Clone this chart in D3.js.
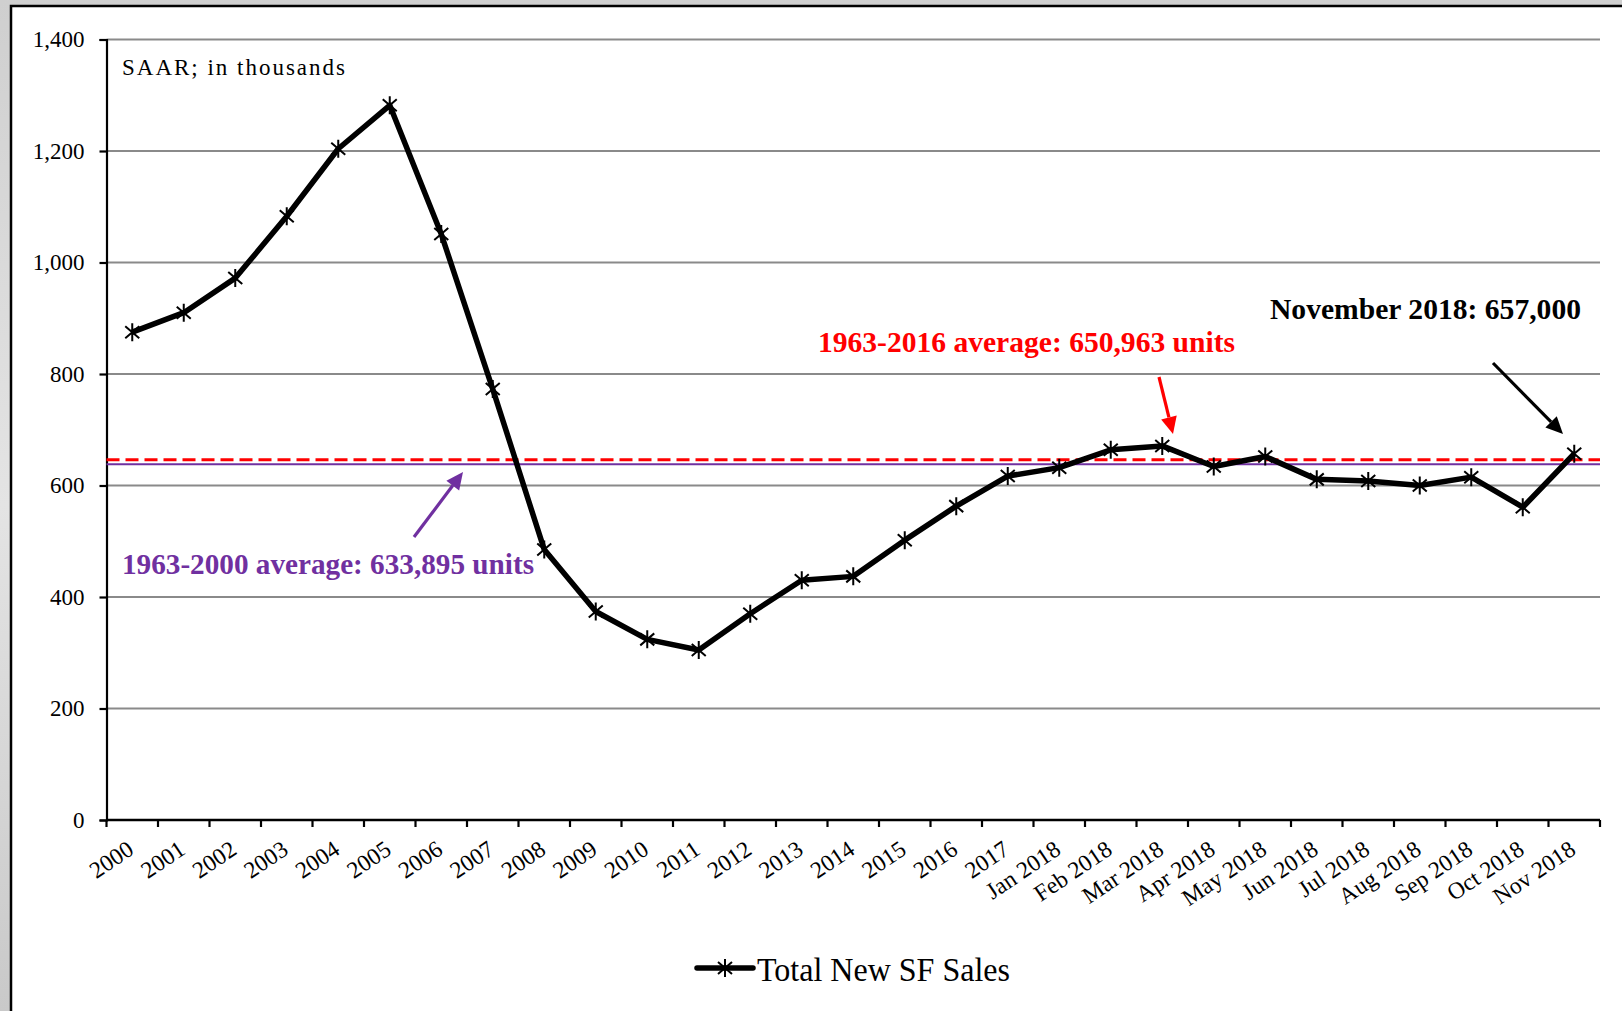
<!DOCTYPE html>
<html>
<head>
<meta charset="utf-8">
<script src="https://cdn.jsdelivr.net/npm/d3@7"></script>
<style>
  body { margin: 0; background: #d6d6d6; }
  svg { display: block; font-family: "Liberation Serif", "Times New Roman", serif; }
</style>
</head>
<body>
<div id="chart"></div>
<script>
// New single-family home sales, SAAR (thousands)
const categories = ['2000','2001','2002','2003','2004','2005','2006','2007','2008','2009',
  '2010','2011','2012','2013','2014','2015','2016','2017',
  'Jan 2018','Feb 2018','Mar 2018','Apr 2018','May 2018','Jun 2018','Jul 2018',
  'Aug 2018','Sep 2018','Oct 2018','Nov 2018'];

const salesValues = [875, 910, 972, 1083, 1204, 1282, 1051, 773, 485, 374,
  324, 305, 370, 430, 437, 502, 563, 617,
  632, 664, 671, 634, 652, 611, 608, 600, 615, 561, 657];

const yTicks = [0, 200, 400, 600, 800, 1000, 1200, 1400];

// average lines (as drawn in the picture)
const avg2016 = 646;
const avg2000 = 638;

const width = 1622, height = 1011;

const svg = d3.select('#chart').append('svg')
  .attr('width', width)
  .attr('height', height);

// textured-ish backdrop + white sheet
const defs = svg.append('defs');
const bg = defs.append('linearGradient').attr('id', 'bg')
  .attr('x1', 0).attr('y1', 0).attr('x2', 0).attr('y2', 1);
bg.append('stop').attr('offset', '0%').attr('stop-color', '#cfcfcf');
bg.append('stop').attr('offset', '50%').attr('stop-color', '#e4e4e4');
bg.append('stop').attr('offset', '100%').attr('stop-color', '#c9c9c9');

svg.append('rect').attr('width', width).attr('height', height).attr('fill', 'url(#bg)');
svg.append('rect')
  .attr('x', 11).attr('y', 6)
  .attr('width', width + 20).attr('height', height + 20)
  .attr('fill', '#fff')
  .attr('stroke', '#000')
  .attr('stroke-width', 2.5);

const x = d3.scaleBand().domain(categories).range([106.5, 1600]);
const y = d3.scaleLinear().domain([0, 1400]).range([820, 39.5]);
const cx = d => x(d) + x.bandwidth() / 2;

// gridlines
svg.append('g')
  .selectAll('line')
  .data(yTicks.filter(d => d > 0))
  .join('line')
  .attr('x1', 106.5).attr('x2', 1600)
  .attr('y1', d => y(d)).attr('y2', d => y(d))
  .attr('stroke', '#8a8a8a')
  .attr('stroke-width', 2);

// y axis
const yAxis = svg.append('g')
  .attr('transform', 'translate(106.5,0)')
  .call(d3.axisLeft(y).tickValues(yTicks).tickSize(7).tickPadding(15)
    .tickFormat(d3.format(',')));
yAxis.select('.domain').attr('stroke-width', 2.2);
yAxis.selectAll('.tick line').attr('stroke-width', 2.2);
yAxis.selectAll('text')
  .style('font-size', '23px')
  .style('font-family', '"Liberation Serif", "Times New Roman", serif')
  .attr('fill', '#000');

// x axis: ticks on band edges
const xEdges = categories.map(d => x(d)).concat([x.range()[1]]);
const xAxisG = svg.append('g');
xAxisG.append('line')
  .attr('x1', 106.5).attr('x2', 1600)
  .attr('y1', y(0)).attr('y2', y(0))
  .attr('stroke', '#000').attr('stroke-width', 2.5);
xAxisG.selectAll('.xtick')
  .data(xEdges)
  .join('line')
  .attr('class', 'xtick')
  .attr('x1', d => d).attr('x2', d => d)
  .attr('y1', y(0)).attr('y2', y(0) + 7)
  .attr('stroke', '#000').attr('stroke-width', 2.2);

xAxisG.selectAll('.xlab')
  .data(categories)
  .join('text')
  .attr('class', 'xlab')
  .attr('text-anchor', 'end')
  .attr('transform', d => `translate(${cx(d) + 3},${y(0) + 33}) rotate(-34)`)
  .style('font-size', '23.5px')
  .text(d => d);

// average lines
svg.append('line')
  .attr('x1', 106.5).attr('x2', 1600)
  .attr('y1', y(avg2000)).attr('y2', y(avg2000))
  .attr('stroke', '#7030a0').attr('stroke-width', 2);
svg.append('line')
  .attr('x1', 106.5).attr('x2', 1600)
  .attr('y1', y(avg2016)).attr('y2', y(avg2016))
  .attr('stroke', '#ff0000').attr('stroke-width', 3)
  .attr('stroke-dasharray', '13,6');

// main series
const line = d3.line()
  .x((d, i) => cx(categories[i]))
  .y(d => y(d));

svg.append('path')
  .datum(salesValues)
  .attr('d', line)
  .attr('fill', 'none')
  .attr('stroke', '#000')
  .attr('stroke-width', 5.5)
  .attr('stroke-linejoin', 'round');

const starPath = 'M-7,-6L7,6M-7,6L7,-6M0,-9L0,9';

svg.append('g')
  .selectAll('path')
  .data(salesValues)
  .join('path')
  .attr('transform', (d, i) => `translate(${cx(categories[i])},${y(d)})`)
  .attr('d', starPath)
  .attr('stroke', '#000')
  .attr('stroke-width', 2)
  .attr('fill', 'none');

// annotation text
svg.append('text')
  .attr('x', 122).attr('y', 75)
  .attr('textLength', 223)
  .style('font-size', '23px')
  .text('SAAR; in thousands');

const notes = [
  {text: '1963-2016 average: 650,963 units', x: 818, y: 352, len: 417, color: '#ff0000'},
  {text: 'November 2018: 657,000', x: 1270, y: 319, len: 311, color: '#000'},
  {text: '1963-2000 average: 633,895 units', x: 122, y: 574, len: 412, color: '#7030a0'}
];
svg.append('g')
  .selectAll('text')
  .data(notes)
  .join('text')
  .attr('x', d => d.x).attr('y', d => d.y)
  .attr('textLength', d => d.len)
  .attr('lengthAdjust', 'spacingAndGlyphs')
  .attr('fill', d => d.color)
  .style('font-size', '29px')
  .style('font-weight', 'bold')
  .text(d => d.text);

// arrows
const arrows = [
  {x1: 1159, y1: 377, x2: 1173, y2: 434, color: '#ff0000'},
  {x1: 1493, y1: 363, x2: 1563, y2: 434, color: '#000'},
  {x1: 414, y1: 537, x2: 463, y2: 472, color: '#7030a0'}
];
arrows.forEach(a => {
  const ang = Math.atan2(a.y2 - a.y1, a.x2 - a.x1);
  const head = 17, half = 8;
  const bx = a.x2 - head * Math.cos(ang), by = a.y2 - head * Math.sin(ang);
  svg.append('line')
    .attr('x1', a.x1).attr('y1', a.y1).attr('x2', bx).attr('y2', by)
    .attr('stroke', a.color).attr('stroke-width', 3.2);
  const p1 = [bx + half * Math.sin(ang), by - half * Math.cos(ang)];
  const p2 = [bx - half * Math.sin(ang), by + half * Math.cos(ang)];
  svg.append('path')
    .attr('d', `M${a.x2},${a.y2}L${p1}L${p2}Z`)
    .attr('fill', a.color);
});

// legend
const lg = svg.append('g').attr('transform', 'translate(697,968)');
lg.append('line')
  .attr('x1', 0).attr('x2', 56).attr('y1', 0).attr('y2', 0)
  .attr('stroke', '#000').attr('stroke-width', 5.5).attr('stroke-linecap', 'round');
lg.append('path').attr('transform', 'translate(28,0)').attr('d', starPath)
  .attr('stroke', '#000').attr('stroke-width', 2).attr('fill', 'none');
lg.append('text')
  .attr('x', 60).attr('y', 13)
  .attr('textLength', 253)
  .attr('lengthAdjust', 'spacingAndGlyphs')
  .style('font-size', '33px')
  .text('Total New SF Sales');
</script>
</body>
</html>
